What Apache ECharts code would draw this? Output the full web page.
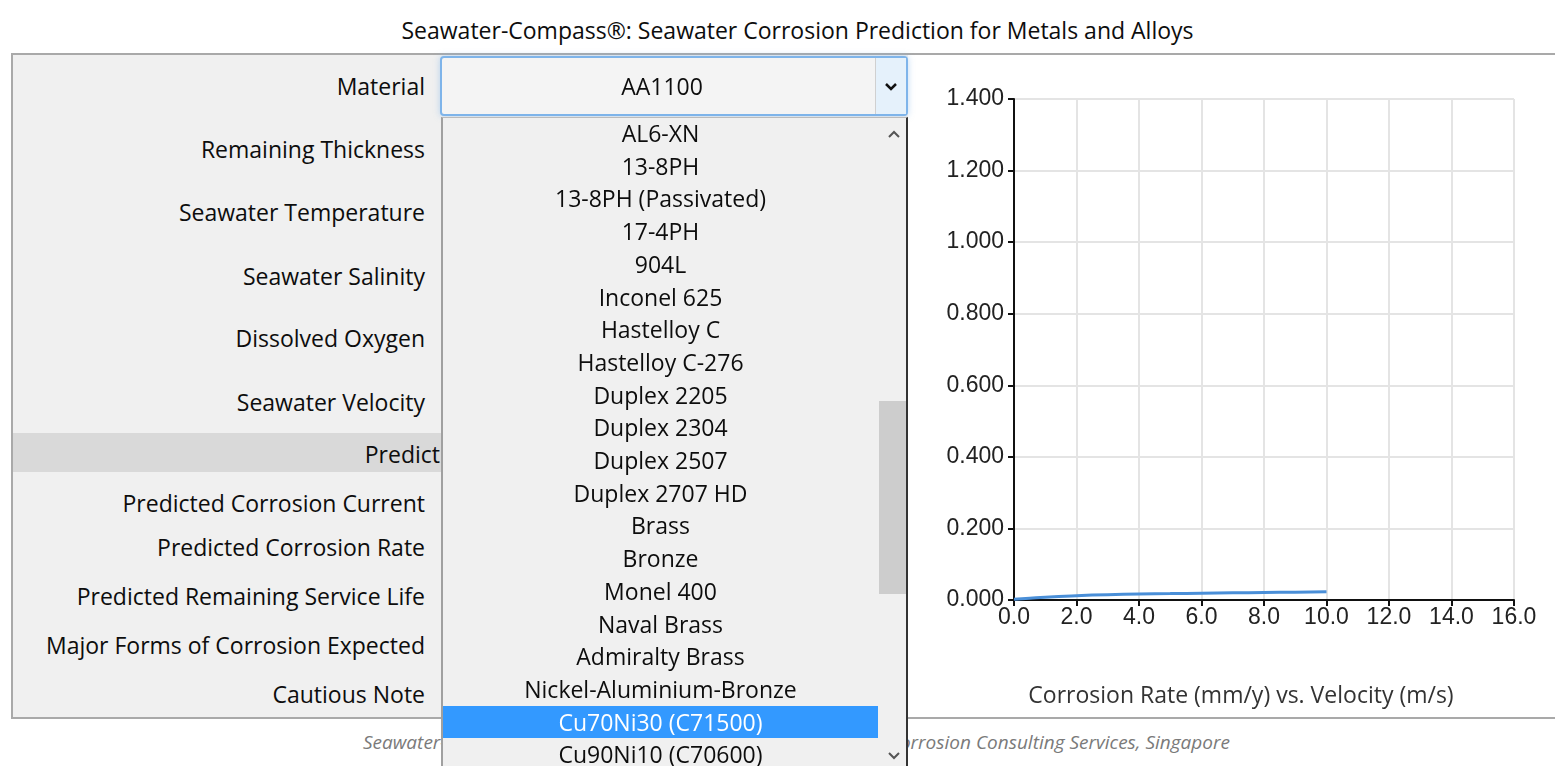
<!DOCTYPE html>
<html>
<head>
<meta charset="utf-8">
<title>Seawater-Compass</title>
<script src="https://cdn.jsdelivr.net/npm/echarts@6/dist/echarts.min.js"></script>
<style>
body { margin: 0; width: 1555px; height: 766px; overflow: hidden; background: #fff; font-family: 'Open Sans', sans-serif; color: #0d0d0d; position: relative; }
#page_title { position: absolute; left: 0; width: 1595px; top: 14px; text-align: center; font-size: 23px; }
#frame { position: absolute; left: 11px; top: 53px; width: 1560px; height: 666px; border: 2px solid #a9a9a9; box-sizing: border-box; }
#corrosion_echart { position: absolute; left: 0; top: 0; width: 1555px; height: 766px; z-index: 1; }
#left_panel { position: absolute; left: 13px; top: 55px; width: 895px; height: 662px; background: #f0f0f0; z-index: 2; }
#predict_band { position: absolute; left: 13px; top: 433px; width: 895px; height: 39px; background: #d9d9d9; z-index: 3; }
.lbl { position: absolute; right: 1130px; height: 30px; line-height: 30px; font-size: 23px; white-space: nowrap; z-index: 4; }
#select_box { position: absolute; left: 440px; top: 56px; width: 468px; height: 60px; box-sizing: border-box; border: 2px solid #7eb4ea; border-radius: 4px; background: #f4f4f4; box-shadow: 0 0 6px rgba(126,180,234,0.5); z-index: 5; }
#select_box .txt { position: absolute; left: 0; width: 440px; top: 0; height: 56px; line-height: 56px; text-align: center; font-size: 23px; }
#select_box .btn { position: absolute; right: 0; top: 0; width: 30px; height: 56px; background: #e5f1fb; border-left: 1px solid #d0d0d0; }
#drop_list { position: absolute; left: 441px; top: 117px; width: 467px; height: 660px; box-sizing: border-box; border-left: 2px solid #a0a0a0; border-right: 2px solid #333; border-top: 1px solid #bbb; background: #f0f0f0; z-index: 6; overflow: hidden; }
.item { position: absolute; left: 0; width: 435px; height: 32.7px; line-height: 32.7px; text-align: center; font-size: 23px; white-space: nowrap; }
.item.sel { background: #3399ff; color: #fff; }
#scroll_thumb { position: absolute; left: 436px; width: 27px; top: 283px; height: 193px; background: #cdcdcd; }
.arrow { position: absolute; left: 440px; }
#footer_l, #footer_r { position: absolute; top: 729px; font-size: 19px; font-style: italic; color: #7a7a7a; white-space: nowrap; z-index: 0; }
#footer_l { left: 363px; }
#footer_r { right: 325px; }
</style>
</head>
<body>
<div id="page_title">Seawater-Compass®: Seawater Corrosion Prediction for Metals and Alloys</div>
<div id="frame"></div>
<div id="footer_l">Seawater-Compass® is developed and maintained by</div>
<div id="footer_r">Corrosion Consulting Services, Singapore</div>
<div id="corrosion_echart"></div>
<div id="left_panel"></div>
<div id="predict_band"></div>
<div id="labels"></div>
<div id="select_box">
  <div class="txt">AA1100</div>
  <div class="btn">
    <svg width="30" height="56"><polyline points="10,26 15,31 20,26" fill="none" stroke="#111" stroke-width="2.5"/></svg>
  </div>
</div>
<div id="drop_list">
  <div id="scroll_thumb"></div>
  <svg class="arrow" style="top:8px" width="24" height="16"><polyline points="6,11 11,6 16,11" fill="none" stroke="#555" stroke-width="2"/></svg>
  <svg class="arrow" style="top:630px" width="24" height="16"><polyline points="6,5 11,10 16,5" fill="none" stroke="#555" stroke-width="2"/></svg>
</div>
<script>
// form labels (text, centre y)
const labelText = ['Material', 'Remaining Thickness', 'Seawater Temperature', 'Seawater Salinity', 'Dissolved Oxygen', 'Seawater Velocity', 'Predicted Corrosion Current', 'Predicted Corrosion Rate', 'Predicted Remaining Service Life', 'Major Forms of Corrosion Expected', 'Cautious Note'];
const labelY = [86, 149, 212, 276, 338, 402, 503, 547, 596, 645, 694];

// dropdown list of materials
const materials = ['AL6-XN', '13-8PH', '13-8PH (Passivated)', '17-4PH', '904L', 'Inconel 625', 'Hastelloy C', 'Hastelloy C-276', 'Duplex 2205', 'Duplex 2304', 'Duplex 2507', 'Duplex 2707 HD', 'Brass', 'Bronze', 'Monel 400', 'Naval Brass', 'Admiralty Brass', 'Nickel-Aluminium-Bronze', 'Cu70Ni30 (C71500)', 'Cu90Ni10 (C70600)'];
const selectedMaterial = 'Cu70Ni30 (C71500)';

// chart data: velocity (m/s) and corrosion rate (mm/y)
const velocity = [0, 0.5, 1, 2, 3, 4, 5, 6, 7, 8, 9, 10];
const corrosionRate = [0.002, 0.005, 0.008, 0.012, 0.015, 0.017, 0.018, 0.019, 0.020, 0.021, 0.022, 0.023];

const labels = document.getElementById('labels');
labelText.forEach((t, i) => {
  const d = document.createElement('div');
  d.className = 'lbl';
  d.style.top = (labelY[i] - 15) + 'px';
  d.textContent = t;
  labels.appendChild(d);
});
const pd = document.createElement('div');
pd.className = 'lbl';
pd.style.right = '1115px';
pd.style.top = '439px';
pd.textContent = 'Predict';
labels.appendChild(pd);

const list = document.getElementById('drop_list');
materials.forEach((m, i) => {
  const d = document.createElement('div');
  d.className = 'item' + (m === selectedMaterial ? ' sel' : '');
  d.style.top = (-1 + i * 32.7) + 'px';
  d.textContent = m;
  list.appendChild(d);
});

const chart = echarts.init(document.getElementById('corrosion_echart'));
chart.setOption({
  animation: false,
  grid: { left: 1014, top: 99, width: 500, height: 501 },
  xAxis: {
    type: 'value',
    min: 0,
    max: 16,
    interval: 2,
    name: 'Corrosion Rate (mm/y) vs. Velocity (m/s)',
    nameLocation: 'middle',
    nameGap: 85,
    nameTextStyle: { fontFamily: 'Open Sans', fontSize: 23, color: '#333', padding: [0, 46, 0, 0] },
    axisLine: { lineStyle: { color: '#111', width: 2 } },
    axisTick: { length: 6, lineStyle: { color: '#111', width: 2 } },
    axisLabel: { fontFamily: 'Liberation Sans', fontSize: 23, color: '#222', margin: 6, formatter: v => v.toFixed(1) },
    splitLine: { show: true, lineStyle: { color: '#e4e4e4', width: 2 } }
  },
  yAxis: {
    type: 'value',
    min: 0,
    max: 1.4,
    interval: 0.2,
    axisLine: { show: true, lineStyle: { color: '#111', width: 2 } },
    axisTick: { show: true, length: 6, lineStyle: { color: '#111', width: 2 } },
    axisLabel: { fontFamily: 'Liberation Sans', fontSize: 23, color: '#222', margin: 10, formatter: v => v.toFixed(3) },
    splitLine: { show: true, lineStyle: { color: '#e4e4e4', width: 2 } }
  },
  series: [{
    type: 'line',
    data: velocity.map((v, i) => [v, corrosionRate[i]]),
    smooth: true,
    showSymbol: false,
    lineStyle: { color: '#4a8fd8', width: 3 }
  }]
});
</script>
</body>
</html>
